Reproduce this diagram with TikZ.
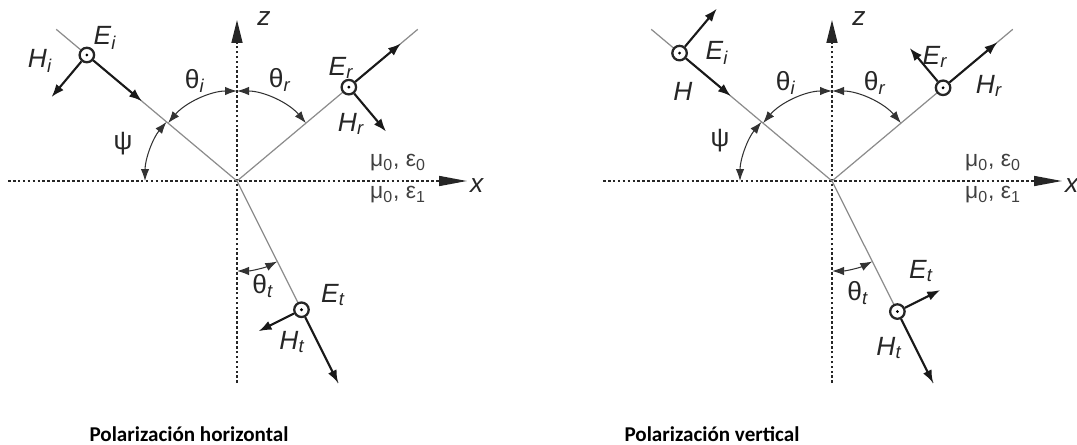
\documentclass[tikz,border=0pt]{standalone}
\usepackage{fontspec}
\setmainfont{Liberation Sans}
\newfontfamily\titlefont{Carlito}
\usetikzlibrary{arrows.meta,calc}

\begin{document}
\begin{tikzpicture}[x=0.02cm, y=0.02cm,
      every node/.style={font=\fontsize{15}{17}\selectfont, inner sep=1pt, black!85},
      ray/.style={draw=black!45, line width=0.7pt},
      axis/.style={black!85, line width=0.9pt, dash pattern=on 1.5pt off 1.3pt},
      vec/.style={-{Latex[length=2.6mm, width=1.9mm]}, line width=1.2pt, black!90},
      ang/.style={{Latex[length=2.4mm, width=1.7mm]}-{Latex[length=2.4mm, width=1.7mm]},
                  line width=0.6pt, black!80},
      dot/.style={circle, draw, line width=1.3pt, fill=white, minimum size=0.29cm,
                  inner sep=0pt, path picture={\fill[black] (path picture bounding box.center) circle (0.9pt);}},
      med/.style={font=\fontsize{13}{15}\selectfont, black!75},
      title/.style={font=\titlefont\bfseries\fontsize{12}{14}\selectfont, black}
    ]
    \useasboundingbox (0,0) rectangle (1077,444);

    % horizontal polarisation
    \begin{scope}[shift={(237,263)}]
      \coordinate (O) at (0,0);
      \coordinate (xl) at (-229,0);  \coordinate (xr) at (230,0);
      \coordinate (zb) at (0,-202);  \coordinate (zt) at (0,161);
      \draw[axis, -{Triangle[length=5.6mm, width=2mm]}] (xl) -- (xr);
      \draw[axis, -{Triangle[length=4.6mm, width=2.2mm]}] (zb) -- (zt);

      \coordinate (inc) at (140:236);
      \coordinate (ref) at (40:236);
      \coordinate (tra) at (296.6:226);
      \draw[ray] (inc) -- (O);  \draw[ray] (O) -- (ref);  \draw[ray] (O) -- (tra);

      \draw[ang] (140:90) arc[start angle=140, end angle=90, radius=90];
      \draw[ang] (90:90) arc[start angle=90, end angle=40, radius=90];
      \draw[ang] (140:92) arc[start angle=140, end angle=180, radius=92];
      \draw[ang] (270:90) arc[start angle=270, end angle=296.6, radius=90];

      \node[dot] (ci) at (140:196) {};
      \node[dot] (cr) at (40:146) {};
      \node[dot] (ct) at (296.6:144) {};
      \coordinate (ki) at (140:124);
      \coordinate (hi) at ($(ci)+(230:55)$);
      \coordinate (kr) at (40:214);
      \coordinate (hr) at ($(cr)+(310:58)$);
      \coordinate (ht) at ($(ct)+(206.6:48)$);
      \draw[vec] (ci) -- (ki);  \draw[vec] (ci) -- (hi);
      \draw[vec] (cr) -- (kr);  \draw[vec] (cr) -- (hr);
      \draw[vec] (ct) -- (tra); \draw[vec] (ct) -- (ht);

      \node (z)  at (27,162) {\textit{z}};
      \node (x)  at (240,-5) {\textit{x}};
      \node (Ei) at (-132,143) {\textit{E\textsubscript{i}}};
      \node (Hi) at (-197,120) {\textit{H\textsubscript{i}}};
      \node (Er) at (104,113) {\textit{E\textsubscript{r}}};
      \node (Hr) at (114,57) {\textit{H\textsubscript{r}}};
      \node (Et) at (96,-114) {\textit{E\textsubscript{t}}};
      \node (Ht) at (55,-161) {\textit{H\textsubscript{t}}};
      \node (thi) at (-42,100) {θ\textsubscript{\textit{i}}};
      \node (thr) at (43,101) {θ\textsubscript{\textit{r}}};
      \node (tht) at (26,-105) {θ\textsubscript{\textit{t}}};
      \node (psi) at (-114,37) {ψ};
      \node[med] (m0) at (161,18) {μ\textsubscript{0}, ε\textsubscript{0}};
      \node[med] (m1) at (161,-14) {μ\textsubscript{0}, ε\textsubscript{1}};
    \end{scope}

    % vertical polarisation
    \begin{scope}[shift={(832,263)}]
      \coordinate (O) at (0,0);
      \coordinate (xl) at (-229,0);  \coordinate (xr) at (230,0);
      \coordinate (zb) at (0,-202);  \coordinate (zt) at (0,161);
      \draw[axis, -{Triangle[length=5.6mm, width=2mm]}] (xl) -- (xr);
      \draw[axis, -{Triangle[length=4.6mm, width=2.2mm]}] (zb) -- (zt);

      \coordinate (inc) at (140:236);
      \coordinate (ref) at (40:236);
      \coordinate (tra) at (296.6:226);
      \draw[ray] (inc) -- (O);  \draw[ray] (O) -- (ref);  \draw[ray] (O) -- (tra);

      \draw[ang] (140:90) arc[start angle=140, end angle=90, radius=90];
      \draw[ang] (90:90) arc[start angle=90, end angle=40, radius=90];
      \draw[ang] (140:92) arc[start angle=140, end angle=180, radius=92];
      \draw[ang] (270:90) arc[start angle=270, end angle=296.6, radius=90];

      \node[dot] (ci) at (140:199) {};
      \node[dot] (cr) at (40:145) {};
      \node[dot] (ct) at (296.6:146) {};
      \coordinate (ki) at (140:132);
      \coordinate (ei) at ($(ci)+(50:58)$);
      \coordinate (kr) at (40:216);
      \coordinate (er) at ($(cr)+(130:52)$);
      \coordinate (et) at ($(ct)+(26.6:48)$);
      \draw[vec] (ci) -- (ki);  \draw[vec] (ci) -- (ei);
      \draw[vec] (cr) -- (kr);  \draw[vec] (cr) -- (er);
      \draw[vec] (ct) -- (tra); \draw[vec] (ct) -- (et);

      \node (z)  at (27,162) {\textit{z}};
      \node (x)  at (240,-5) {\textit{x}};
      \node (Ei) at (-115,128) {\textit{E\textsubscript{i}}};
      \node (H)  at (-149,90) {\textit{H}};
      \node (Er) at (103,124) {\textit{E\textsubscript{r}}};
      \node (Hr) at (157,95) {\textit{H\textsubscript{r}}};
      \node (Et) at (89,-90) {\textit{E\textsubscript{t}}};
      \node (Ht) at (57,-167) {\textit{H\textsubscript{t}}};
      \node (thi) at (-46,98) {θ\textsubscript{\textit{i}}};
      \node (thr) at (43,98) {θ\textsubscript{\textit{r}}};
      \node (tht) at (26,-112) {θ\textsubscript{\textit{t}}};
      \node (psi) at (-112,40) {ψ};
      \node[med] (m0) at (161,18) {μ\textsubscript{0}, ε\textsubscript{0}};
      \node[med] (m1) at (161,-14) {μ\textsubscript{0}, ε\textsubscript{1}};
    \end{scope}

    \node[title] (hor) at (189,10) {Polarización horizontal};
    \node[title] (ver) at (712,10) {Polarización vertical};
  \end{tikzpicture}
\end{document}
